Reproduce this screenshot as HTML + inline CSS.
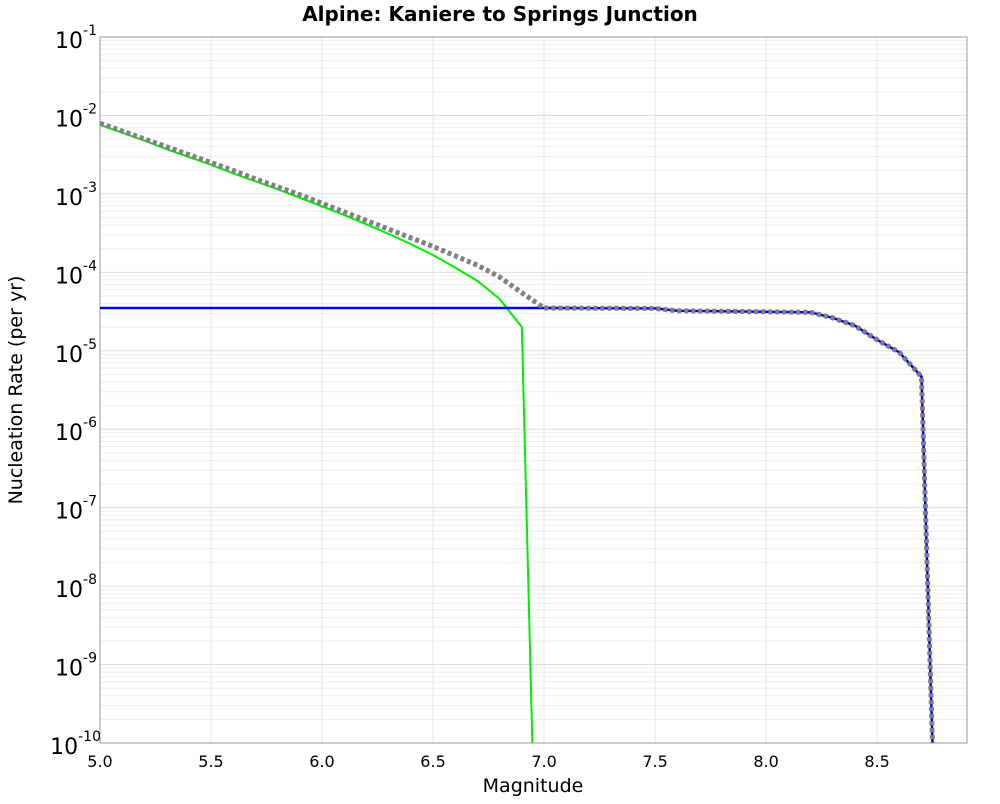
<!DOCTYPE html>
<html><head><meta charset="utf-8"><style>
body{margin:0;background:#fff;font-family:"DejaVu Sans","Liberation Sans",sans-serif}
</style></head><body>
<svg id="chart" width="1000" height="800" xmlns="http://www.w3.org/2000/svg" font-family="DejaVu Sans, Liberation Sans, sans-serif">
<text x="500" y="21" text-anchor="middle" font-size="20" font-weight="bold">Alpine: Kaniere to Springs Junction</text>
<g id="grid"></g>
<rect x="100" y="37" width="867" height="706" fill="none" stroke="#999"/>
<g id="series"></g>
<g id="ticks"></g>
<text x="533" y="792" text-anchor="middle" font-size="19">Magnitude</text>
<text transform="translate(22,390) rotate(-90)" text-anchor="middle" font-size="19">Nucleation Rate (per yr)</text>
</svg>
<script>
const magsA=[5.0,5.1,5.2,5.3,5.4,5.5,5.6,5.7,5.8,5.9,6.0,6.1,6.2,6.3,6.4,6.5,6.6,6.7,6.8,6.9,6.95];
const offFault=[-2.12,-2.22,-2.32,-2.43,-2.53,-2.63,-2.74,-2.84,-2.94,-3.05,-3.16,-3.27,-3.39,-3.51,-3.64,-3.78,-3.94,-4.11,-4.34,-4.70,-10.3];
const magsB=[5.0,7.0,7.5,7.6,8.2,8.3,8.4,8.5,8.6,8.7,8.75];
const onFault=[-4.455,-4.455,-4.46,-4.49,-4.51,-4.58,-4.68,-4.86,-5.02,-5.33,-10.05];
const magsT=[5.0,5.1,5.2,5.3,5.4,5.5,5.6,5.7,5.8,5.9,6.0,6.1,6.2,6.3,6.4,6.5,6.6,6.7,6.8,6.9,7.0,7.5,7.6,8.2,8.3,8.4,8.5,8.6,8.7,8.75];
const total=[-2.10,-2.20,-2.30,-2.40,-2.50,-2.60,-2.70,-2.81,-2.91,-3.01,-3.12,-3.23,-3.34,-3.45,-3.56,-3.67,-3.79,-3.91,-4.06,-4.26,-4.455,-4.46,-4.49,-4.51,-4.58,-4.68,-4.86,-5.02,-5.33,-10.05];
const xTicks=[5.0,5.5,6.0,6.5,7.0,7.5,8.0,8.5];
const yExps=[-1,-2,-3,-4,-5,-6,-7,-8,-9,-10];
const X0=100,X1=967,Y0=37,Y1=743,XMIN=5.0,XMAX=8.905,LMAX=-1,LMIN=-10;
const sx=m=>X0+(m-XMIN)/(XMAX-XMIN)*(X1-X0);
const sy=l=>Y0+(LMAX-l)/(LMAX-LMIN)*(Y1-Y0);
const NS="http://www.w3.org/2000/svg";
const grid=document.getElementById('grid'),ser=document.getElementById('series'),tk=document.getElementById('ticks');
function ln(p,x1,y1,x2,y2,c,w){const l=document.createElementNS(NS,'line');l.setAttribute('x1',x1);l.setAttribute('y1',y1);l.setAttribute('x2',x2);l.setAttribute('y2',y2);l.setAttribute('stroke',c);l.setAttribute('stroke-width',w);p.appendChild(l);return l;}
for(let e=-10;e<-1;e++){for(let k=1;k<10;k++){const y=sy(e+Math.log10(k));
const g=ln(grid,X0,y,X1,y,k==1?'#ddd':'#eee',1);

}}
xTicks.forEach(m=>{const x=sx(m);
const g=ln(grid,x,Y0,x,Y1,'#e6e6e6',1);


const t=document.createElementNS(NS,'text');t.setAttribute('x',x);t.setAttribute('y',767);t.setAttribute('text-anchor','middle');t.setAttribute('font-size','16');t.textContent=m.toFixed(1);


tk.appendChild(t);});
yExps.forEach(e=>{const y=sy(e);
const t=document.createElementNS(NS,'text');t.setAttribute('x',e==-10?101:97);t.setAttribute('y',y+11);t.setAttribute('text-anchor','end');t.setAttribute('font-size','22');
t.innerHTML='10<tspan dy="-13" font-size="14">'+e+'</tspan>';


tk.appendChild(t);});
const clip=document.createElementNS(NS,'clipPath');clip.setAttribute('id','pc');const cr=document.createElementNS(NS,'rect');cr.setAttribute('x',X0);cr.setAttribute('y',Y0);cr.setAttribute('width',X1-X0);cr.setAttribute('height',Y1-Y0);clip.appendChild(cr);ser.appendChild(clip);ser.setAttribute('clip-path','url(#pc)');
function poly(ms,vs,c,w,dash,name){const p=document.createElementNS(NS,'polyline');p.setAttribute('points',ms.map((m,i)=>sx(m)+','+sy(vs[i])).join(' '));p.setAttribute('fill','none');p.setAttribute('stroke',c);p.setAttribute('stroke-width',w);if(dash)p.setAttribute('stroke-dasharray',dash);


ser.appendChild(p);}
poly(magsA,offFault,'#00ee00',2,null,'off-fault-line');
poly(magsB,onFault,'#0000ee',2.5,null,'on-fault-line');
poly(magsT,total,'#808080',5,'4,3','total-line');
</script>
</body></html>
